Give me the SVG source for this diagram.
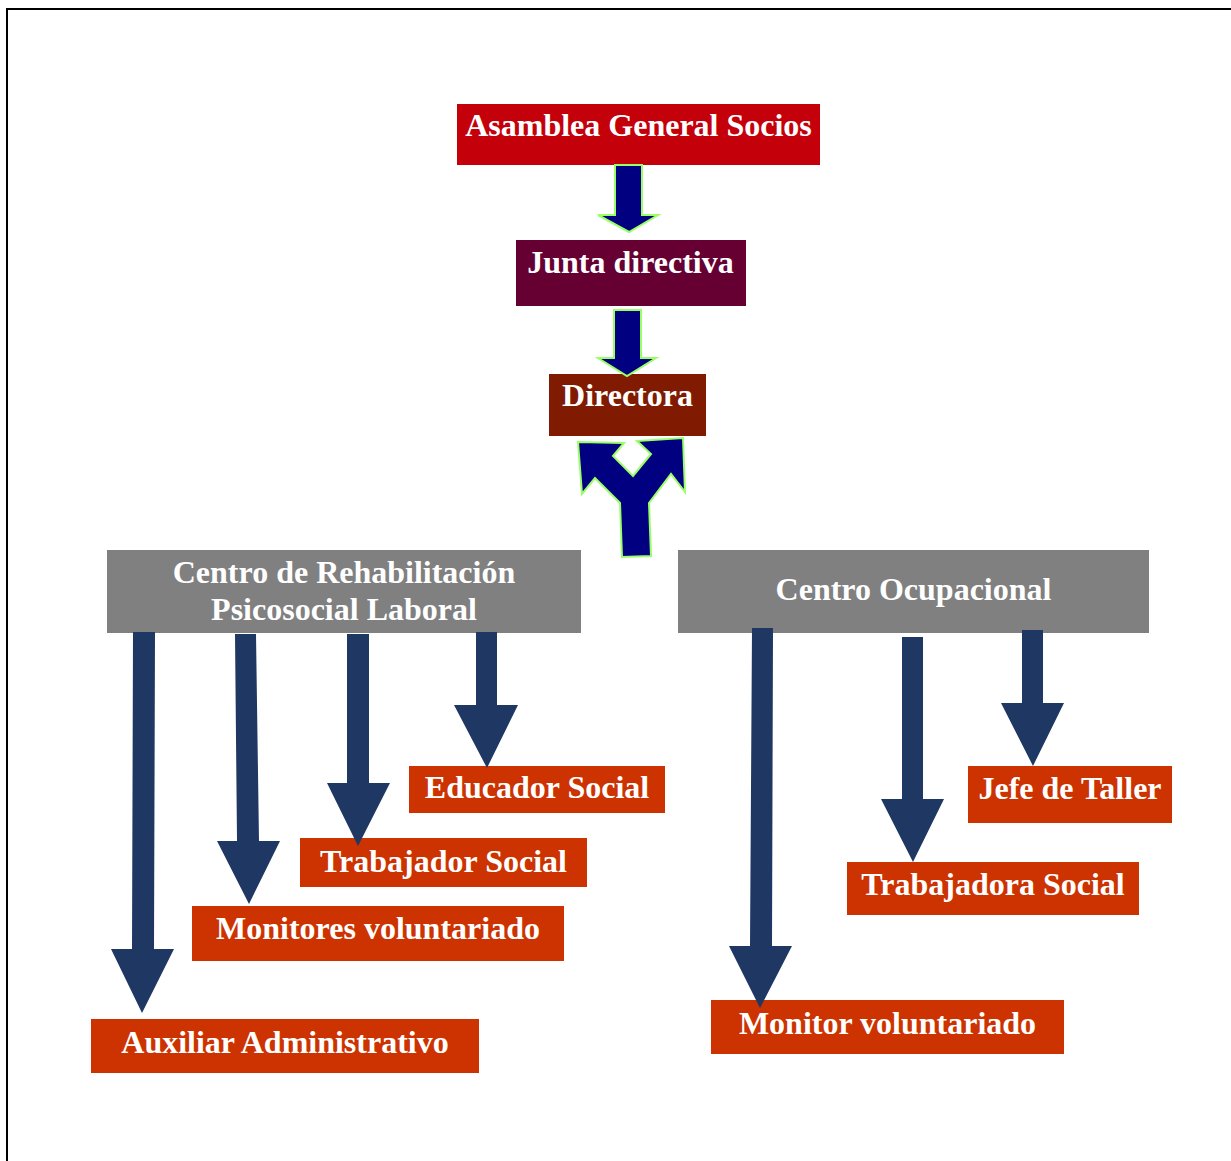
<svg xmlns="http://www.w3.org/2000/svg" width="1231" height="1161" viewBox="0 0 1231 1161">
<style>
text{font-family:"Liberation Serif","Times New Roman",serif;font-weight:bold;font-size:32px;fill:#ffffff;text-anchor:middle}
.top{stroke:#99FF66;stroke-width:2;fill:#000080;stroke-linejoin:miter}
.blk{fill:#1F3763}
.orange{fill:#CC3300}
.gray{fill:#808080}
</style>
<rect x="0" y="0" width="1231" height="1161" fill="#ffffff"/>
<path d="M7 1161 V9 H1231" fill="none" stroke="#000000" stroke-width="2"/>
<g id="asamblea">
<rect x="457" y="104" width="363" height="61" fill="#C4000B"/>
<text x="638.5" y="136">Asamblea General Socios</text>
</g>
<g id="junta">
<rect x="516" y="240" width="230" height="66" fill="#660033"/>
<text x="630.5" y="273">Junta directiva</text>
</g>
<g id="directora">
<rect x="549" y="374" width="157" height="62" fill="#801A00"/>
<text x="627.5" y="406">Directora</text>
</g>
<g id="crpl">
<rect class="gray" x="107" y="550" width="474" height="83"/>
<text x="344" y="583">Centro de Rehabilitación</text>
<text x="344" y="620">Psicosocial Laboral</text>
</g>
<g id="co">
<rect class="gray" x="678" y="550" width="471" height="83"/>
<text x="913.5" y="600">Centro Ocupacional</text>
</g>
<g id="educador">
<rect class="orange" x="409" y="766" width="256" height="47"/>
<text x="537" y="798">Educador Social</text>
</g>
<g id="trabajador">
<rect class="orange" x="300" y="838" width="287" height="49"/>
<text x="443.5" y="872">Trabajador Social</text>
</g>
<g id="monitores">
<rect class="orange" x="192" y="906" width="372" height="55"/>
<text x="378" y="939">Monitores voluntariado</text>
</g>
<g id="auxiliar">
<rect class="orange" x="91" y="1019" width="388" height="54"/>
<text x="285" y="1053">Auxiliar Administrativo</text>
</g>
<g id="jefe">
<rect class="orange" x="968" y="766" width="204" height="57"/>
<text x="1070" y="799">Jefe de Taller</text>
</g>
<g id="trabajadora">
<rect class="orange" x="847" y="862" width="292" height="53"/>
<text x="993" y="895">Trabajadora Social</text>
</g>
<g id="monitor">
<rect class="orange" x="711" y="1000" width="353" height="54"/>
<text x="887.5" y="1034">Monitor voluntariado</text>
</g>
<g id="connectors">
<polygon class="top" points="615,165 642,165 642,215 658,215 629,232 598,215 615,215"/>
<polygon class="top" points="614,310 641,310 641,358 656,358 627,376 598,358 614,358"/>
<polygon class="top" points="578,442 624,443 613,456 633,476 651,454 637,441 683,438 685,492 671,474 649,503 651,556 622,557 620,503 595,478 582,494"/>
<polygon class="blk" points="133,632 155,632 154,949 174,949 142,1013 111,949 132,949"/>
<polygon class="blk" points="235,634 256,634 259,841 280,841 249,904 217,841 237,841"/>
<polygon class="blk" points="347,634 369,634 369,783 390,783 358,846 327,783 347,783"/>
<polygon class="blk" points="476,632 497,632 497,705 518,705 487,768 454,705 476,705"/>
<polygon class="blk" points="752,628 773,628 772,946 792,946 760,1008 729,946 750,946"/>
<polygon class="blk" points="902,637 923,637 923,799 944,799 913,862 881,799 902,799"/>
<polygon class="blk" points="1022,630 1043,630 1043,703 1064,703 1033,766 1001,703 1022,703"/>
</g>
</svg>
